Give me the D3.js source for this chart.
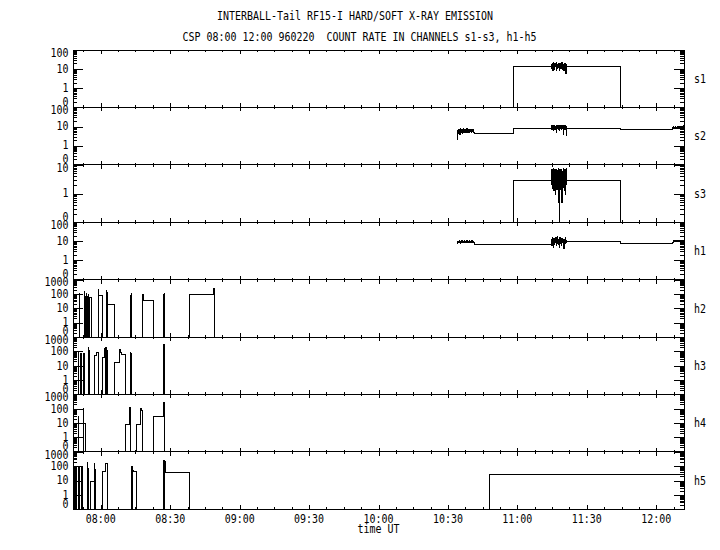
<!DOCTYPE html>
<html>
<head>
<meta charset="utf-8">
<script src="https://cdnjs.cloudflare.com/ajax/libs/d3/7.8.5/d3.min.js"></script>
<style>
  body { margin: 0; background: #fff; }
  svg { display: block; }
  text { font-family: "DejaVu Sans Mono", monospace; font-size: 12px; fill: #000; white-space: pre; }
</style>
</head>
<body>
<div class="box"></div>
<script>
// ---- data ----
const panelNames = ["s1", "s2", "s3", "h1", "h2", "h3", "h4", "h5"];
const timeLabels = ["08:00", "08:30", "09:00", "09:30", "10:00", "10:30", "11:00", "11:30", "12:00"];
const sTicks = [0.1, 1, 10, 100];
const s3Ticks = [0.1, 1, 10];
const hTicks = [0.1, 1, 10, 100, 1000];

// soft channels: plateau levels [from, value] and noisy bursts sampled every 10 s
const s1Levels = [["10:34:00", 0], ["10:58:20", 13.4], ["11:21:25", 13.4], ["11:44:25", 0]];
const s1Noise = [14,18,11,20,9,16,22,12,15,10,19,13,17,8,21,14,11,18,12,16,20,9,15,13,19,11,17,14,22,10,16,12,18,8,15,20,11,14,6,13,17];

const s2Levels = [["10:41:20", 4.4], ["10:58:20", 8.1], ["11:21:25", 8.1], ["11:44:25", 7.2]];
const s2Early = [2.2,5,6.5,4.5,7,5.5,6,4,7.5,5,6.5,5.5,7,4.5,6,5,8,5.5,6.5,4.8,7,6,5,6.8,5.2,7.5,5.8,6.2,4.6,7,5.5,6.5,5,7.2,6,5.3,6.8,4.9,6.3,5.6,7.1,5.9,6.4,5];
const s2Mid = [9,11,7,12,8,10,6,11,9,12,7,10,8,11,5,9,12,8,10,7,11,9,6,12,10,8,11,7,9,12,8,10,4,11,9,7,12,8,10,3.6,9];
const s2Late = [7.2,8.5,7.8,9.5,8,7.5,9,8.2,10,7.6,8.8,9.2,7.9,8.4,9.8,8.1,7.7,9.3,8.6,10.2,7.8,8.9,9.5,8.3,7.6,9.1,8.7,10,8.2,9.4,11];

const s3Levels = [["10:34:00", 0], ["10:58:20", 2.8], ["11:21:25", 2.8], ["11:44:25", 0]];
const s3Noise = [6,2,7,1.5,5,3,7.5,1.3,6,2.5,7,0.9,5.5,2,7,1.4,6.5,3,7.2,0.5,6,2,0,7,1.4,6.4,2.2,7,0.5,5.8,1.6,7.3,2.6,6.8,1.3,7,0.9,6.2,2,7.5,3];

const h1Levels = [["10:41:20", 7.1], ["10:58:20", 6.5], ["11:21:25", 10.2], ["11:44:25", 8]];
const h1Early = [9,8,10,9.5,8.5,11,9,10,8,9.5,10.5,8.8,9.2,11,8.2,9.8,10,9,8.6,10.8,9.4,8.4,10.2,9.6,8.9,11.2,9.1,8.7,10.4,9.3,8.5,10.6,9,9.7,8.3,10.1,9.5,8.8,10.9,9.2,8.6,9.9,9.4,8.8];
const h1Mid = [8,12,6,15,9,11,5,14,10,7,13,9,16,6,12,8,17,10,7,13,9,11,5,15,8,12,10,6,14,9,11,7,13,4.4,12,10,15,8,11,9,10];
const h1Late = [8.5,9,10,9.5,10.5,9.8,11,10.2,9.6,10.8,10,11.2,9.9,10.6,10.3,11,9.7,10.9,10.4,11.3,10.1,10.7,11,10.2,10.8,11.5,10.5,11,10.3,10.9,11.2];

// hard channels: count pulses [start, end, value], zero in between
const h2Pulses = [
  ["07:50:40","07:50:55",110], ["07:52:55","07:53:10",140], ["07:53:20","07:53:35",70],
  ["07:53:45","07:54:00",100], ["07:54:10","07:54:25",65], ["07:54:35","07:54:50",90],
  ["07:55:00","07:56:05",55], ["07:58:50","07:59:05",195], ["07:59:05","08:00:40",83],
  ["08:02:25","08:02:40",166], ["08:02:45","08:03:00",120], ["08:03:00","08:06:00",17],
  ["08:12:40","08:12:55",80], ["08:13:05","08:13:20",110], ["08:17:50","08:18:10",9.8],
  ["08:18:10","08:18:25",87], ["08:18:25","08:22:55",37], ["08:26:55","08:27:10",90],
  ["08:27:20","08:27:35",105], ["08:38:20","08:48:50",98], ["08:48:50","08:49:10",240]
];
const h3Pulses = [
  ["07:50:10","07:50:25",93], ["07:51:20","07:51:35",76], ["07:52:45","07:53:00",76],
  ["07:54:35","07:54:50",186], ["07:54:55","07:55:10",120], ["07:57:30","07:58:15",49],
  ["07:58:15","07:58:55",90], ["08:00:35","08:01:45",40], ["08:01:45","08:02:00",150],
  ["08:02:10","08:02:25",190], ["08:02:35","08:02:50",120], ["08:05:45","08:08:12",18],
  ["08:08:12","08:08:30",128], ["08:08:30","08:08:50",90], ["08:08:50","08:10:38",56],
  ["08:12:40","08:12:55",89], ["08:13:05","08:13:20",75], ["08:27:03","08:27:35",287]
];
const h4Pulses = [
  ["07:50:15","07:50:30",30], ["07:52:20","07:52:35",110], ["07:52:35","07:53:20",10],
  ["08:10:38","08:12:22",8.5], ["08:12:22","08:12:40",120], ["08:12:40","08:13:00",55],
  ["08:15:23","08:17:17",8.5], ["08:17:17","08:17:35",100], ["08:17:35","08:17:55",75],
  ["08:22:55","08:27:13",27.5], ["08:27:13","08:27:30",260]
];
const h5Pulses = [
  ["07:48:40","07:48:55",95], ["07:49:25","07:49:40",100], ["07:50:30","07:50:45",90],
  ["07:51:30","07:51:45",100], ["07:52:00","07:52:15",100], ["07:54:05","07:54:20",190],
  ["07:54:30","07:54:45",66], ["07:55:40","07:57:05",8], ["07:57:05","07:57:20",150],
  ["07:57:30","07:57:50",56], ["08:00:40","08:02:10",40], ["08:02:10","08:02:45",163],
  ["08:13:13","08:13:30",100], ["08:13:40","08:13:57",50], ["08:13:57","08:15:23",40],
  ["08:27:13","08:27:30",235], ["08:27:35","08:27:50",180], ["08:27:50","08:28:05",200],
  ["08:28:05","08:38:18",34.5], ["10:47:50","12:12:00",25]
];

// ---- layout ----
const w = 720, h = 550;
const plotLeft = 73, plotRight = 684, plotTop = 50, panelH = 57.4;

const parseT = d3.timeParse("%H:%M:%S");
const parseHM = d3.timeParse("%H:%M");
const tStart = parseT("07:48:00"), tEnd = parseT("12:12:00");

const xScale = d3.scaleTime().domain([tStart, tEnd]).range([plotLeft, plotRight]);

// step series for soft channels
function buildSteps(levels, bursts) {
  let pts = levels.map(d => [parseT(d[0]), d[1]]);
  bursts.forEach(b => {
    const t0 = parseT(b[0]);
    b[1].forEach((v, i) => pts.push([new Date(+t0 + i * 10000), v]));
  });
  pts = pts.filter(d => d[0] <= tEnd).sort((a, b) => a[0] - b[0]);
  pts.push([tEnd, pts[pts.length - 1][1]]);
  return pts;
}

// step series for hard channels
function buildPulses(pulses) {
  const pts = [[tStart, 0]];
  pulses.forEach((p, i) => {
    pts.push([parseT(p[0]), p[2]]);
    const next = pulses[i + 1];
    if (!next || next[0] !== p[1]) pts.push([parseT(p[1]), 0]);
  });
  pts.push([tEnd, 0]);
  return pts;
}

const panels = [
  { name: "s1", ticks: sTicks, data: buildSteps(s1Levels, [["11:14:35", s1Noise]]) },
  { name: "s2", ticks: sTicks, data: buildSteps(s2Levels, [["10:34:00", s2Early], ["11:14:35", s2Mid], ["12:06:55", s2Late]]) },
  { name: "s3", ticks: s3Ticks, data: buildSteps(s3Levels, [["11:14:35", s3Noise]]) },
  { name: "h1", ticks: sTicks, data: buildSteps(h1Levels, [["10:34:00", h1Early], ["11:14:35", h1Mid], ["12:06:55", h1Late]]) },
  { name: "h2", ticks: hTicks, data: buildPulses(h2Pulses) },
  { name: "h3", ticks: hTicks, data: buildPulses(h3Pulses) },
  { name: "h4", ticks: hTicks, data: buildPulses(h4Pulses) },
  { name: "h5", ticks: hTicks, data: buildPulses(h5Pulses) }
];

const svg = d3.select(".box")
  .append("svg")
  .attr("width", w)
  .attr("height", h);

// text helper, squeezed to 6px per character like the original pixel font
function addText(g, x, y, str, anchor) {
  return g.append("text")
    .attr("x", x)
    .attr("y", y)
    .attr("text-anchor", anchor || "start")
    .attr("textLength", str.length * 6)
    .attr("lengthAdjust", "spacingAndGlyphs")
    .text(str);
}

// titles
addText(svg, 355, 19.5, "INTERBALL-Tail RF15-I HARD/SOFT X-RAY EMISSION", "middle");
addText(svg, 359.5, 41, "CSP 08:00 12:00 960220  COUNT RATE IN CHANNELS s1-s3, h1-h5", "middle");

// time ticks: majors every 30 min, minors every 7.5 min
const majorTimes = timeLabels.map(parseHM);
const minorTimes = [];
majorTimes.forEach(t => {
  [-3, -2, -1, 1, 2, 3].forEach(k => {
    const m = new Date(+t + k * 450000);
    if (m > tStart && m < tEnd && !minorTimes.some(d => +d === +m)) minorTimes.push(m);
  });
});

function minorLog(ticks) {
  const out = [];
  ticks.slice(0, -1).forEach(t => [2, 3, 4, 5, 6, 7, 8, 9].forEach(m => out.push(+(m * t).toPrecision(3))));
  return out;
}

svg.append("clipPath").attr("id", "plotclip")
  .append("rect").attr("x", plotLeft).attr("y", plotTop)
  .attr("width", plotRight - plotLeft).attr("height", panelH * 8);

panels.forEach((p, i) => {
  const y0 = plotTop + i * panelH, y1 = y0 + panelH;
  const yScale = d3.scaleLog()
    .domain([p.ticks[0], p.ticks[p.ticks.length - 1]])
    .range([y1, y0]);

  const g = svg.append("g").attr("shape-rendering", "crispEdges");

  // data
  const line = d3.line()
    .x(d => xScale(d[0]))
    .y(d => yScale(Math.max(d[1], p.ticks[0])))
    .curve(d3.curveStepAfter);

  g.append("path")
    .datum(p.data)
    .attr("clip-path", "url(#plotclip)")
    .attr("d", line)
    .attr("fill", "none")
    .attr("stroke", "#000")
    .attr("stroke-width", 1);

  // y axes, ticks pointing inwards on both sides
  const minors = minorLog(p.ticks);
  [[d3.axisLeft, plotLeft], [d3.axisRight, plotRight]].forEach(([axisFn, xPos]) => {
    g.append("g")
      .attr("transform", "translate(" + xPos + ",0)")
      .call(axisFn(yScale).tickValues(p.ticks).tickSize(-10).tickFormat(""))
      .call(a => a.select(".domain").remove());
    g.append("g")
      .attr("transform", "translate(" + xPos + ",0)")
      .call(axisFn(yScale).tickValues(minors).tickSize(-4).tickFormat(""))
      .call(a => a.select(".domain").remove());
  });

  // time ticks on the top edge (down) and bottom edge (up)
  g.append("g").attr("transform", "translate(0," + y0 + ")")
    .call(d3.axisBottom(xScale).tickValues(majorTimes).tickSize(4).tickFormat(""))
    .call(a => a.select(".domain").remove());
  g.append("g").attr("transform", "translate(0," + y0 + ")")
    .call(d3.axisBottom(xScale).tickValues(minorTimes).tickSize(2).tickFormat(""))
    .call(a => a.select(".domain").remove());
  g.append("g").attr("transform", "translate(0," + y1 + ")")
    .call(d3.axisTop(xScale).tickValues(majorTimes).tickSize(4).tickFormat(""))
    .call(a => a.select(".domain").remove());
  g.append("g").attr("transform", "translate(0," + y1 + ")")
    .call(d3.axisTop(xScale).tickValues(minorTimes).tickSize(2).tickFormat(""))
    .call(a => a.select(".domain").remove());

  // frame
  g.append("rect")
    .attr("x", plotLeft).attr("y", y0)
    .attr("width", plotRight - plotLeft).attr("height", panelH)
    .attr("fill", "none").attr("stroke", "#000");

  // y labels
  p.ticks.forEach((t, k) => {
    let yc = yScale(t) - 0.5;
    if (k === 0) yc = y1 - 6;
    if (k === p.ticks.length - 1) yc = y0 + 2.5;
    addText(svg, 68.5, yc + 4.3, t < 1 ? "0" : String(t), "end");
  });

  // channel name on the right
  addText(svg, 694, (y0 + y1) / 2 + 4.3, p.name, "start");
});

// x tick labels
const fmt = d3.timeFormat("%H:%M");
majorTimes.forEach(t => addText(svg, xScale(t), 523, fmt(t), "middle"));

// axis title
addText(svg, (plotLeft + plotRight) / 2, 532.5, "time UT", "middle");
</script>
</body>
</html>
